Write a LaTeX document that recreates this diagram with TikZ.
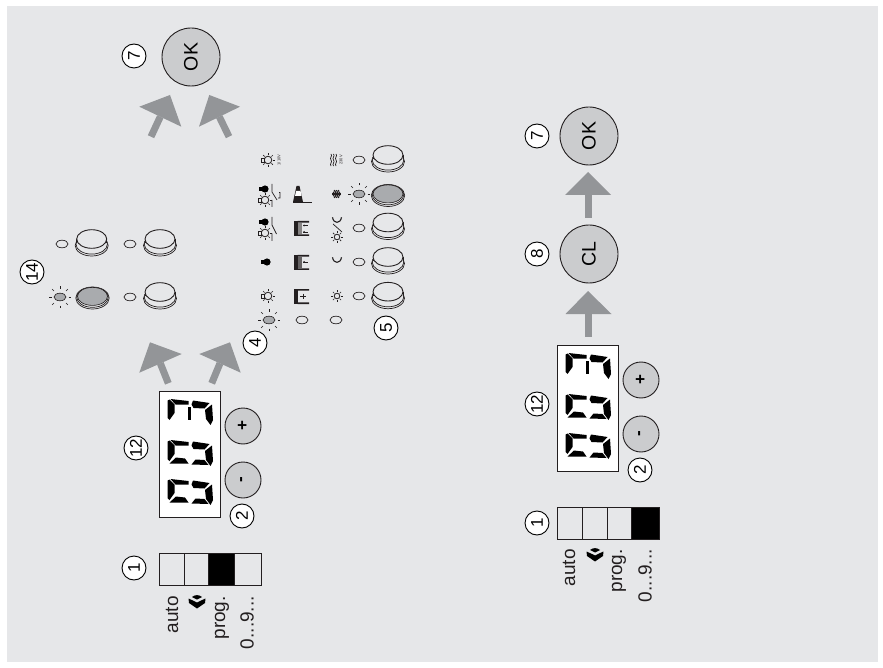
\documentclass[tikz,border=0pt]{standalone}
\usepackage{fontspec}
\setmainfont{Liberation Sans}
\definecolor{bgc}{HTML}{E6E7E9}
\definecolor{keyc}{HTML}{CBCCCE}
\definecolor{arrc}{HTML}{939598}
\definecolor{pressc}{HTML}{A9ABAE}
\definecolor{linec}{HTML}{231F20}
\newcommand{\fz}[1]{\fontsize{#1}{#1}\selectfont}
\newcommand{\fatarrow}[6]{% apex, base1, base2, shaft end
  \fill[arrc] (#1) -- (#2) -- (#3) -- cycle;
  \draw[arrc,line width=#6pt] (#4) -- (#5);}
\newcommand{\plainbtn}[2]{\begin{scope}[shift={(#1,#2)}]
  \draw[linec,line width=.7,fill=bgc] (0,6.5) ellipse [x radius=16.5,y radius=10.5];
  \draw[linec,line width=.7,fill=bgc] (0,5.3) ellipse [x radius=15.7,y radius=9.8];
  \fill[bgc] (-15,0) rectangle (15,4);
  \fill[bgc] (0,4) ellipse [x radius=15,y radius=9.3];
  \draw[linec,line width=.8] (-15,0) -- (-15,4) (15,0) -- (15,4);
  \draw[linec,line width=.9,fill=bgc] (0,0) ellipse [x radius=15,y radius=9.3];
\end{scope}}
\newcommand{\pressbtn}[2]{\begin{scope}[shift={(#1,#2)}]
  \draw[linec,line width=.7,fill=bgc] (0,0) ellipse [x radius=16.7,y radius=11];
  \draw[linec,line width=.7,fill=bgc] (0,-.7) ellipse [x radius=15.8,y radius=10];
  \draw[linec,line width=.6,fill=pressc] (0,-1.6) ellipse [x radius=15,y radius=9];
\end{scope}}
\newcommand{\ledoff}[2]{\draw[linec,line width=.7,fill=bgc] (#1,#2) ellipse [x radius=6,y radius=3.8];}
\newcommand{\ledon}[2]{\begin{scope}[shift={(#1,#2)}]
  \draw[linec,line width=.6,fill=pressc] (0,0) ellipse [x radius=6,y radius=3.8];
  \foreach \a in {0,45,...,315}{\draw[linec,line width=.65] (\a:8.5) -- (\a:11);}
\end{scope}}
\newcommand{\sunic}[3]{\begin{scope}[shift={(#1,#2)}]
  \draw[linec,line width=.8,fill=bgc] (0,0) circle (#3);
  \foreach \a in {0,45,...,315}{\draw[linec,line width=.7] (\a:#3+1) -- (\a:#3+3);}
\end{scope}}
\newcommand{\lampic}[2]{\sunic{#1}{#2}{3.8}\draw[linec,line width=.7,fill=bgc] (#1-6.5,#2-2) rectangle (#1-3.6,#2+2);}
\newcommand{\blobic}[2]{\fill[black] (#1,#2) circle (3.6); \fill[black] (#1-6,#2-1.8) rectangle (#1-2,#2+1.8);}
\newcommand{\switchic}[4]{% x,y top
  \draw[linec,line width=.7] (#1,#2) -- (#1,#2+8) -- (#1+4.5,#2+#3) (#1,#2+#3-.5) -- (#1,#2+#4);}
\newcommand{\doorbase}[3]{\begin{scope}[shift={(#1,#2)}]
  \fill[linec] (0,0) rectangle (3.5,15);
  \fill[#3] (3.5,2) rectangle (8,13);
  \fill[linec] (3.5,0) rectangle (15,1.6) (3.5,13.4) rectangle (15,15);
\end{scope}}
\newcommand{\moonic}[3]{\draw[linec,line width=1.1] (#1-#3,#2-#3*.6) .. controls (#1-#3*.8,#2+#3*.9) and (#1+#3*.8,#2+#3*.9) .. (#1+#3,#2-#3*.6);}
\newcommand{\flake}[2]{\begin{scope}[shift={(#1,#2)}]
  \foreach \a in {0,60,120}{\draw[linec,line width=1.2] (\a:-4.5) -- (\a:4.5);}
  \foreach \a in {30,90,...,330}{\fill[linec] (\a:3.3) circle (.9);}
\end{scope}}
\newcommand{\dispdigit}[3]{\begin{scope}[shift={(#1,#2)}]
  \fill[black] (7.5,1.5) -- (9.5,.5) -- (14.5,5.5) -- (14.5,14) -- (9.5,21) -- (7.5,19) -- cycle;
  \fill[black] (10.5,0) -- (28.5,2) -- (28.5,5.5) -- (15.5,5.5) -- cycle;
  \fill[black] (31.5,5.5) -- (33,1.5) -- (49.5,4) -- (44.5,9.5) -- (33.5,9) -- cycle;
  \fill[black] (52,5.5) -- (53,21) -- (50.5,26) -- (46,20) -- (45,11) -- cycle;
  #3
\end{scope}}
\newcommand{\lowerbars}{
  \fill[black] (9.5,23.5) -- (16,17.5) -- (25,18.5) -- (28.5,23.5) -- cycle;
  \fill[black] (31.5,24.5) -- (35.5,19.5) -- (44.5,20) -- (48.5,25) -- cycle;}
\newcommand{\midbar}{\fill[black] (28,7.7) rectangle (31,21);}
\newcommand{\display}[2]{\begin{scope}[shift={(#1,#2)}]
  \draw[linec,line width=.9,fill=white] (0,0) rectangle (61,126);
  \dispdigit{1}{8}{\midbar}
  \dispdigit{1}{49}{\lowerbars}
  \dispdigit{1}{88}{\lowerbars}
\end{scope}}
\newcommand{\valveic}[2]{\begin{scope}[shift={(#1,#2)}]
  \fill[black] (-5,-5) .. controls (-2,-7.5) and (2,-7.5) .. (5,-5) -- (0,-2.5) -- cycle;
  \fill[black] (-8.5,-3.5) -- (-3,-1) -- (0,.5) -- (3,-1) -- (8.5,-3.5) -- (8,1) -- (0,6.5) -- (-8,1) -- cycle;
\end{scope}}
\tikzset{
  numc/.style={circle,draw=black,line width=.9,fill=white,minimum size=24,inner sep=0,rotate=90,font=\fz{17}},
  bigkey/.style={circle,draw=linec,line width=.9,fill=keyc,minimum size=58,inner sep=0,rotate=90,font=\fz{19.5}},
  smallkey/.style={circle,draw=linec,line width=.9,fill=keyc,minimum size=36,inner sep=0,rotate=90,font=\fz{17}\bfseries},
  striplab/.style={rotate=90,anchor=east,inner sep=0,font=\fz{19},text=linec},
  cellbox/.style={draw=linec,line width=.8}
}
\begin{document}
\begin{tikzpicture}[x=1pt,y=-1pt]
\useasboundingbox (0,0) rectangle (883,668);
\fill[white] (0,0) rectangle (883,668);
\fill[bgc] (7,6) rectangle (878,662);

% --- left column: selector strip
\node[numc] (n1a) at (134,568) {1};
\fill[black] (208,553) rectangle (234,585);
\draw[cellbox] (159,553) rectangle (261,585) (184,553) -- (184,585) (208,553) -- (208,585) (234,553) -- (234,585);
\node[striplab] (autoa) at (172,596) {auto};
\valveic{197}{602}
\node[striplab] (proga) at (222,596) {prog.};
\node[striplab] (numa) at (247,596) {0...9...};

% --- left column: display
\display{159}{391}
\node[numc] (n12a) at (136,448) {12};
\node[smallkey] (pa) at (243,426) {+};
\node[smallkey] (ma) at (243,480) {-};
\node[numc] (n2a) at (242,516) {2};

% --- left arrows
\fatarrow{150,342.3}{181.7,354}{139.3,372.7}{160.3,363.3}{168.3,383.3}{7}
\fatarrow{230,342.3}{199.3,354}{240.7,372.7}{220,363.3}{211.7,383.3}{7}

% --- group 14
\node[numc] (n14) at (32,272) {14};
\ledoff{62}{244}\plainbtn{91.7}{239}
\ledoff{130}{244}\plainbtn{160}{239}
\ledon{60}{297}\pressbtn{92.5}{298}
\ledoff{130}{297}\plainbtn{160}{292}

% --- group 4/5 column A
\lampic{268}{160}
\node[rotate=90,font=\fz{4},text=linec,inner sep=0] (tenv) at (279,160) {1/10V};
\blobic{265}{189}\lampic{265}{200}
\draw[linec,line width=.7] (272,184) -- (272,192) -- (277,200) (272,200) -- (272,207) (279,192.5) -- (280,192.5) -- (280,198) -- (278,198);
\blobic{265}{222}\lampic{265}{233}
\switchic{272}{217}{17}{24}
\blobic{267}{262}
\lampic{268}{296}
\ledon{269}{320}

% column B
\fill[linec] (296.5,186) -- (299.5,186) -- (303,202) -- (293,202) -- cycle;
\fill[white] (296,191) -- (300.5,191) -- (301.5,196) -- (295,196) -- cycle;
\draw[linec,line width=.7] (293,202) -- (312,202);
\doorbase{294}{221}{linec!55}
\draw[linec,line width=.6] (303,225.5) -- (308,225.5) (303,232) -- (308,232);
\fill[linec] (304,225.5) circle (1) (304,232) circle (1);
\doorbase{294}{255}{linec!70}
\draw[linec,line width=.6] (303,262) -- (308,262);
\fill[linec] (304,262) circle (1);
\doorbase{294}{289}{bgc}
\draw[linec,line width=.6] (300,296) -- (306,296) (303,293.5) -- (303,298.5);
\ledoff{302}{320}

% column C
\foreach \q in {331,333.5,336}{\draw[linec,line width=.7] (\q,154) .. controls (\q+2,156) and (\q-2,158) .. (\q,160) .. controls (\q+2,162) and (\q-2,164) .. (\q,166);}
\node[rotate=90,font=\fz{4},text=linec,inner sep=0] (voltc) at (341,160) {230V};
\flake{336.5}{194}
\moonic{337}{220}{4.5}
\draw[linec,line width=.7] (333,224) -- (342,232);
\sunic{337}{237}{2.8}
\moonic{337}{260}{4.5}
\sunic{337}{296}{2.8}
\ledoff{336}{320}

% LEDs and buttons
\ledoff{359}{160}\plainbtn{388}{155}
\ledon{359}{194}\pressbtn{388}{195.5}
\ledoff{359}{228}\plainbtn{388}{222.5}
\ledoff{359}{262}\plainbtn{388}{257}
\ledoff{359}{296}\plainbtn{388}{291.7}
\node[numc] (n4) at (255,343) {4};
\node[numc] (n5) at (386,328) {5};

% top arrows and OK
\fatarrow{170,95}{139.3,106.7}{181.3,126.7}{160.3,116.7}{151,136.7}{7}
\fatarrow{209.3,95}{240,106.7}{199,126.7}{219.3,116.7}{229,136.7}{7}
\node[numc] (n7a) at (134,56) {7};
\node[bigkey] (oka) at (191,57) {OK};

% --- right column
\node[numc] (n7b) at (537,136) {7};
\node[bigkey] (okb) at (589,136) {OK};
\node[numc] (n8) at (537,254) {8};
\node[bigkey] (clb) at (589,254) {CL};
\fatarrow{588,172}{565,195}{611,195}{588,195}{588,218}{7}
\fatarrow{588,291}{565.5,314}{611.5,314}{588,314}{588,337}{7}
\display{557}{345}
\node[numc] (n12b) at (537,404) {12};
\node[smallkey] (pb) at (641,380) {+};
\node[smallkey] (mb) at (641,434) {-};
\node[numc] (n2b) at (640,470) {2};
\node[numc] (n1b) at (537,523) {1};
\fill[black] (631,507) rectangle (659,539);
\draw[cellbox] (557,507) rectangle (659,539) (582,507) -- (582,539) (607,507) -- (607,539) (631,507) -- (631,539);
\node[striplab] (autob) at (569,549) {auto};
\valveic{595}{555}
\node[striplab] (progb) at (619,549) {prog.};
\node[striplab] (numb) at (645,549) {0...9...};
\end{tikzpicture}
\end{document}
